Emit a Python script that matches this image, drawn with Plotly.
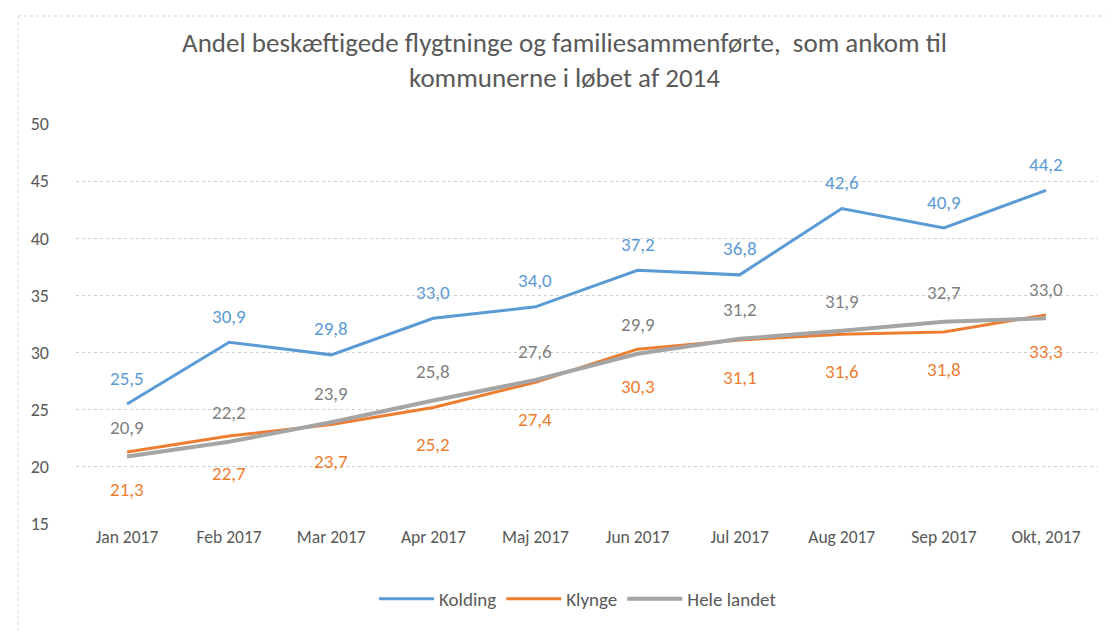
import plotly.graph_objects as go

months = ["Jan 2017", "Feb 2017", "Mar 2017", "Apr 2017", "Maj 2017",
          "Jun 2017", "Jul 2017", "Aug 2017", "Sep 2017", "Okt, 2017"]
kolding = [25.5, 30.9, 29.8, 33.0, 34.0, 37.2, 36.8, 42.6, 40.9, 44.2]
klynge = [21.3, 22.7, 23.7, 25.2, 27.4, 30.3, 31.1, 31.6, 31.8, 33.3]
hele = [20.9, 22.2, 23.9, 25.8, 27.6, 29.9, 31.2, 31.9, 32.7, 33.0]

FONT = "Carlito, Liberation Sans Narrow, Lato, Open Sans, sans-serif"
BLUE = "#5b9bd5"
ORANGE = "#ed7d31"
GRAY = "#a5a5a5"
LABEL_GRAY = "#7f7f7f"
TEXT = "#595959"

def fmt(v):
    return f"{v:.1f}".replace(".", ",")

fig = go.Figure()
fig.add_trace(go.Scatter(x=months, y=kolding, mode="lines", name="Kolding",
                         line=dict(color=BLUE, width=3)))
fig.add_trace(go.Scatter(x=months, y=klynge, mode="lines", name="Klynge",
                         line=dict(color=ORANGE, width=3)))
fig.add_trace(go.Scatter(x=months, y=hele, mode="lines", name="Hele landet",
                         line=dict(color=GRAY, width=4)))

annotations = []
for series, color, shift in [(kolding, BLUE, 26), (klynge, ORANGE, -37), (hele, LABEL_GRAY, 29)]:
    for m, v in zip(months, series):
        annotations.append(dict(x=m, y=v, text=fmt(v), showarrow=False,
                                yshift=shift, font=dict(color=color, size=19, family=FONT)))

W, H = 1113, 634
L, R, T, B = 68, 24, 116, 118
pw, ph = W - L - R, H - T - B
bx = (10 - L) / pw
by = 1 + (T - 8) / ph

fig.update_layout(
    width=W, height=H,
    margin=dict(l=L, r=R, t=T, b=B),
    paper_bgcolor="white", plot_bgcolor="white",
    font=dict(family=FONT, color=TEXT, size=17),
    title=dict(text="Andel beskæftigede flygtninge og familiesammenførte,  som ankom til<br>kommunerne i løbet af 2014",
               x=0.5, xref="container", xanchor="center", y=0.93, yanchor="top",
               font=dict(size=27, color=TEXT, family=FONT)),
    xaxis=dict(type="category", showgrid=False, zeroline=False, showline=False,
               ticks="", tickfont=dict(size=17.5, color=TEXT), range=[-0.5, 9.5]),
    yaxis=dict(range=[15, 50], dtick=5, showgrid=True, gridcolor="#cfcfcf",
               griddash="dot", gridwidth=1, zeroline=False, showline=False,
               ticks="", tickfont=dict(size=18, color=TEXT), ticklabelstandoff=26),
    legend=dict(orientation="h", x=(570 - L) / pw, xanchor="center", y=-0.14, yanchor="top",
                font=dict(size=19, color=TEXT), itemwidth=55, tracegroupgap=0),
    annotations=annotations,
    shapes=[
        dict(type="line", xref="paper", yref="paper", x0=bx, x1=1.05, y0=by, y1=by,
             line=dict(color="#d9d9d9", width=1, dash="dot")),
        dict(type="line", xref="paper", yref="paper", x0=bx, x1=bx, y0=by, y1=-0.35,
             line=dict(color="#d9d9d9", width=1, dash="dot")),
    ],
    showlegend=True,
)

fig.write_html("out.html")
